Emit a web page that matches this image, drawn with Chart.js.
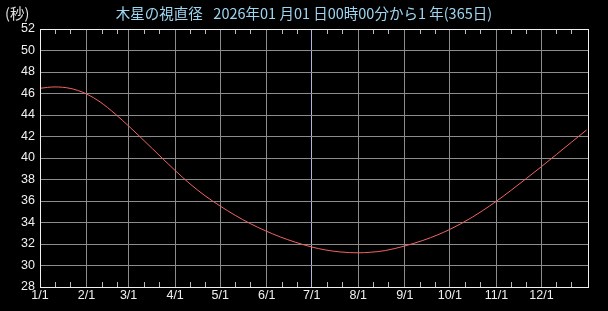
<!DOCTYPE html>
<html>
<head>
<meta charset="utf-8">
<script src="https://cdn.jsdelivr.net/npm/chart.js@4/dist/chart.umd.min.js"></script>
<style>
  body { margin: 0; background: #000; }
  canvas { display: block; }
</style>
</head>
<body>
<canvas id="diamChart" width="608" height="311"></canvas>
<script>
// days since 2026-01-01 and apparent diameter (arcsec)
var days = [0, 5, 10, 15, 20, 25, 31, 40, 50, 60, 66, 75, 82, 90, 100, 110, 120, 130, 140, 150,
    160, 170, 181, 190, 200, 212, 220, 230, 243, 255, 265, 273, 280, 288, 295, 304, 314, 324,
    334, 344, 354, 364];
var diam = [46.48, 46.57, 46.61, 46.58, 46.48, 46.29, 45.96, 45.22, 44.11, 42.85, 42.06, 40.85,
    39.9, 38.84, 37.58, 36.48, 35.53, 34.67, 33.9, 33.24, 32.66, 32.17, 31.72, 31.45, 31.26, 31.18,
    31.23, 31.39, 31.82, 32.33, 32.86, 33.36, 33.86, 34.5, 35.12, 35.98, 37.02, 38.1, 39.2, 40.33,
    41.47, 42.6];

var monthStarts = [0, 31, 59, 90, 120, 151, 181, 212, 243, 273, 304, 334];
var monthLabels = ["1/1", "2/1", "3/1", "4/1", "5/1", "6/1", "7/1", "8/1", "9/1", "10/1", "11/1", "12/1"];
var yTicks = [28, 30, 32, 34, 36, 38, 40, 42, 44, 46, 48, 50, 52];
var midYear = 181;

var titleText = "木星の視直径\u2002 2026年01 月01 日00時00分から1 年(365日)";
var unitText = "(秒)";

// background, frame, small day ticks, titles
var framePlugin = {
    id: 'frame',
    beforeDraw: function (chart) {
        var c = chart.ctx;
        c.save();
        c.fillStyle = '#000';
        c.fillRect(0, 0, chart.width, chart.height);
        c.restore();
    },
    afterDraw: function (chart) {
        var c = chart.ctx;
        var a = chart.chartArea;
        var xs = chart.scales.x;
        c.save();
        c.strokeStyle = '#bbbbbb';
        c.lineWidth = 1;
        c.beginPath();
        monthStarts.forEach(function (m) {
            [10, 20].forEach(function (d) {
                var px = Math.round(xs.getPixelForValue(m + d)) + 0.5;
                if (px >= a.right) return;
                c.moveTo(px, a.bottom);
                c.lineTo(px, a.bottom - 5);
                c.moveTo(px, a.top);
                c.lineTo(px, a.top + 5);
            });
        });
        c.stroke();

        c.strokeStyle = '#f0f0f0';
        c.strokeRect(Math.round(a.left) + 0.5, Math.round(a.top) + 0.5,
            Math.round(a.right - a.left), Math.round(a.bottom - a.top));

        c.font = '14.5px "Noto Sans CJK JP", sans-serif';
        c.textBaseline = 'middle';
        c.fillStyle = '#e0e0e0';
        c.textAlign = 'left';
        c.fillText(unitText, 5, 13);
        c.fillStyle = '#9ed6f2';
        c.textAlign = 'center';
        c.fillText(titleText, 304, 13);
        c.restore();
    }
};

var ctx = document.getElementById("diamChart").getContext('2d');
var diamChart = new Chart(ctx, {
    type: 'line',
    data: {
        datasets: [{
            data: days.map(function (d, i) { return { x: d, y: diam[i] }; }),
            borderColor: '#f06464',
            borderWidth: 1,
            pointRadius: 0,
            cubicInterpolationMode: 'monotone',
            fill: false
        }]
    },
    options: {
        responsive: false,
        animation: false,
        layout: { padding: { top: 29, right: 20, left: 0, bottom: 0 } },
        plugins: {
            legend: { display: false },
            tooltip: { enabled: false }
        },
        scales: {
            x: {
                type: 'linear',
                min: 0,
                max: 365,
                afterBuildTicks: function (s) {
                    s.ticks = monthStarts.map(function (v) { return { value: v }; });
                },
                afterFit: function (s) { s.height = 24; },
                grid: {
                    color: function (c) {
                        return c.tick && c.tick.value === midYear ? '#b4b4dc' : '#8c8c8c';
                    },
                    drawTicks: false
                },
                border: { display: false },
                ticks: {
                    autoSkip: false,
                    maxRotation: 0,
                    padding: 1,
                    color: '#f0f0f0',
                    font: { family: 'Liberation Sans', size: 12.5 },
                    callback: function (v, i) { return monthLabels[i]; }
                }
            },
            y: {
                min: yTicks[0],
                max: yTicks[yTicks.length - 1],
                afterFit: function (s) { s.width = 40; },
                grid: { color: '#8c8c8c', drawTicks: false },
                border: { display: false },
                ticks: {
                    stepSize: 2,
                    padding: 5,
                    color: '#f0f0f0',
                    font: { family: 'Liberation Sans', size: 12.5 }
                }
            }
        }
    },
    plugins: [framePlugin]
});
</script>
</body>
</html>
